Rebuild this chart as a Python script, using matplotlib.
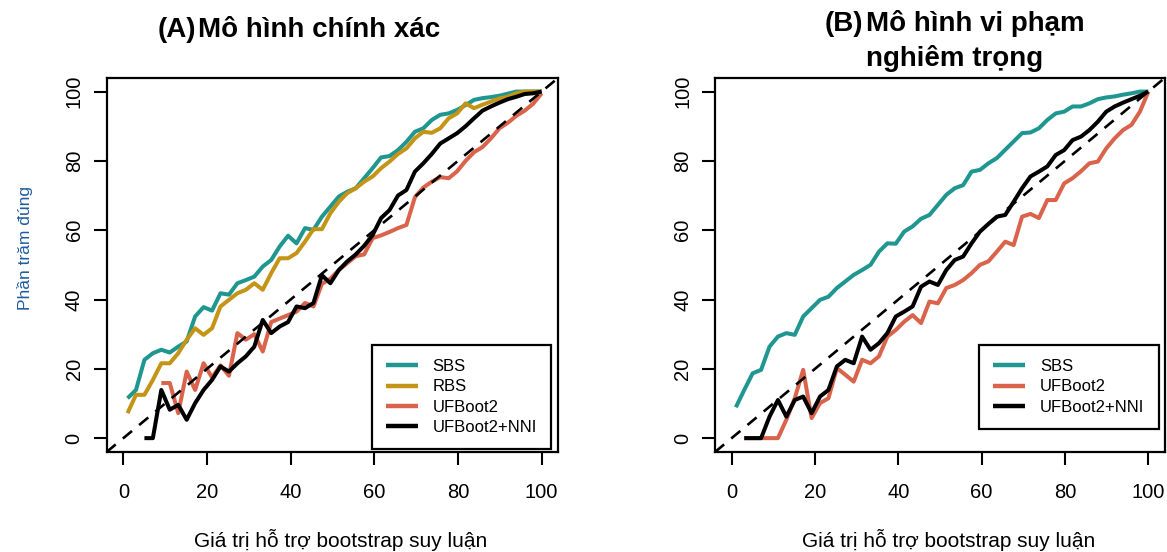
import numpy as np
import matplotlib
matplotlib.use("Agg")
import matplotlib.pyplot as plt

plt.rcParams['font.family'] = ['Liberation Sans', 'DejaVu Sans']

# bootstrap support grid (x values of every curve)
support = np.linspace(1, 100, 50)

# (A) correct model
sbs_a = [11.5, 13.9, 22.6, 24.5, 25.5, 24.7, 26.4, 27.9, 35.1, 37.8,
         36.8, 41.8, 41.4, 44.7, 45.6, 46.6, 49.5, 51.4, 55.3, 58.4,
         56.2, 60.6, 60.1, 63.9, 66.8, 69.7, 71.1, 72.1, 75.0, 77.9,
         81.0, 81.4, 83.1, 85.5, 88.4, 89.4, 91.8, 93.3, 93.7, 94.7,
         96.1, 97.6, 98.1, 98.4, 98.8, 99.4, 100, 100, 100, 100]
rbs_a = [7.2, 12.5, 12.5, 16.8, 21.6, 21.6, 24.5, 28.4, 31.7, 29.8,
         31.7, 38.0, 39.9, 41.8, 42.8, 44.7, 42.8, 47.6, 51.9, 51.9,
         53.4, 56.7, 60.3, 60.3, 64.9, 68.2, 70.7, 72.1, 74.0, 75.5,
         77.9, 79.8, 82.0, 83.6, 86.5, 88.4, 88.1, 89.4, 92.3, 93.7,
         96.6, 95.2, 96.2, 97.1, 98.0, 98.5, 99.5, 100, 100, 100]
ufb_a = [np.nan, np.nan, np.nan, np.nan, 15.9, 15.9, 7.2, 19.2, 13.9, 21.6,
         17.5, 21.0, 18.0, 30.3, 28.4, 30.0, 25.0, 33.5, 34.5, 35.5,
         36.5, 39.0, 38.0, 44.5, 46.0, 48.5, 50.5, 52.5, 53.0, 57.7,
         58.5, 59.5, 60.6, 61.5, 69.5, 72.3, 74.0, 75.3, 75.0, 77.0,
         80.0, 82.5, 84.0, 86.5, 89.4, 91.0, 93.0, 94.5, 96.5, 99.5]
nni_a = [np.nan, np.nan, 0, 0, 13.9, 8.2, 9.6, 5.3, 10.1, 13.9,
         16.8, 20.7, 19.2, 21.6, 23.6, 26.4, 34.1, 30.3, 32.2, 33.5,
         38.0, 37.5, 39.0, 47.0, 44.7, 48.5, 51.0, 53.0, 55.5, 58.6,
         63.5, 65.8, 70.0, 71.6, 76.9, 79.3, 82.0, 85.0, 86.5, 88.0,
         90.0, 92.3, 94.5, 95.7, 96.8, 97.8, 98.5, 99.3, 99.5, 100]

# (B) severely violated model
sbs_b = [8.9, 13.9, 18.7, 19.7, 26.4, 29.3, 30.3, 29.8, 35.1, 37.5,
         39.9, 40.8, 43.3, 45.2, 47.1, 48.5, 50.0, 53.8, 56.2, 56.1,
         59.6, 61.1, 63.3, 64.4, 67.3, 70.2, 72.1, 73.0, 76.9, 77.4,
         79.3, 80.8, 83.2, 85.6, 88.0, 88.2, 89.4, 91.8, 93.7, 94.2,
         95.7, 95.7, 96.6, 97.8, 98.3, 98.6, 99.1, 99.5, 100, 100]
ufb_b = [np.nan, 0, 0, 0, 0, 0, 5.3, 11.5, 19.7, 5.8,
         10.1, 11.5, 20.2, 18.3, 16.3, 22.6, 21.6, 23.6, 29.3, 31.2,
         33.6, 35.5, 33.2, 39.4, 38.9, 43.3, 44.2, 45.6, 47.6, 50.0,
         51.0, 53.8, 56.7, 55.7, 63.9, 64.7, 63.5, 68.7, 68.7, 73.5,
         75.0, 77.0, 79.3, 79.8, 83.6, 86.5, 88.9, 90.4, 94.2, 100]
nni_b = [np.nan, 0, 0, 0, 6.2, 11.0, 6.2, 11.0, 12.0, 7.2,
         12.0, 13.9, 20.7, 22.6, 21.6, 29.3, 25.5, 27.4, 30.3, 35.1,
         36.5, 38.0, 43.7, 45.2, 44.2, 48.5, 51.4, 52.4, 56.2, 59.6,
         61.8, 63.9, 64.4, 68.2, 72.1, 75.5, 76.9, 78.4, 81.7, 83.1,
         86.0, 87.0, 88.9, 91.3, 94.2, 95.7, 96.8, 97.8, 98.8, 100]

ticks = [0, 20, 40, 60, 80, 100]
TEAL, GOLD, RED = '#1f968f', '#c49416', '#d9644b'

W, H = 1167, 552


def px_box(x0, y0, x1, y1):
    return [x0 / W, 1 - y1 / H, (x1 - x0) / W, (y1 - y0) / H]


def draw_panel(ax, series):
    for label, vals, col in series:
        ax.plot(support, vals, color=col, lw=2.9, label=label,
                solid_joinstyle='round', solid_capstyle='butt')
    ax.axline((0, 0), (100, 100), color='black', lw=1.9,
              ls=(0, (4.5, 3.5)), zorder=5)
    ax.set_xlim(-4, 104)
    ax.set_ylim(-4, 104)
    ax.set_xticks(ticks)
    ax.set_yticks(ticks)
    for s in ax.spines.values():
        s.set_linewidth(1.6)
    ax.tick_params(direction='out', length=9.5, width=1.5, labelsize=14.5)
    ax.tick_params(axis='x', pad=13)
    ax.tick_params(axis='y', pad=7)
    plt.setp(ax.get_yticklabels(), rotation=90, va='center')
    leg = ax.legend(loc='upper left', bbox_to_anchor=(0.587, 0.286),
                    borderaxespad=0, fontsize=12, handlelength=1.9,
                    handletextpad=0.9, labelspacing=0.32, borderpad=0.85,
                    fancybox=False, framealpha=1, edgecolor='black')
    leg.get_frame().set_linewidth(1.6)
    for h in leg.legend_handles:
        h.set_linewidth(3.2)
    ax.set_xlabel('Giá trị hỗ trợ bootstrap suy luận', fontsize=15)
    ax.xaxis.set_label_coords(0.519, -0.205)


fig = plt.figure(figsize=(W / 100, H / 100), dpi=100)
ax1 = fig.add_axes(px_box(106.6, 77.7, 558.4, 452))
ax2 = fig.add_axes(px_box(715, 77.7, 1165, 452))

draw_panel(ax1, [('SBS', sbs_a, TEAL), ('RBS', rbs_a, GOLD),
                 ('UFBoot2', ufb_a, RED), ('UFBoot2+NNI', nni_a, 'black')])
draw_panel(ax2, [('SBS', sbs_b, TEAL), ('UFBoot2', ufb_b, RED),
                 ('UFBoot2+NNI', nni_b, 'black')])

ax1.set_ylabel('Phần trăm đúng', fontsize=12.5, color='#1f5c9e')
ax1.yaxis.set_label_coords(-0.163, 0.545)

title_kw = dict(fontsize=20, fontweight='bold', va='baseline')
fig.text(196 / W, 1 - 37 / H, '(A)', ha='right', **title_kw)
fig.text(198 / W, 1 - 37 / H, 'Mô hình chính xác', ha='left', **title_kw)
fig.text(863 / W, 1 - 31 / H, '(B)', ha='right', **title_kw)
fig.text(866 / W, 1 - 31 / H, 'Mô hình vi phạm', ha='left', **title_kw)
fig.text(866 / W, 1 - 66 / H, 'nghiêm trọng', ha='left', **title_kw)

fig.savefig('out.png', dpi=100)
